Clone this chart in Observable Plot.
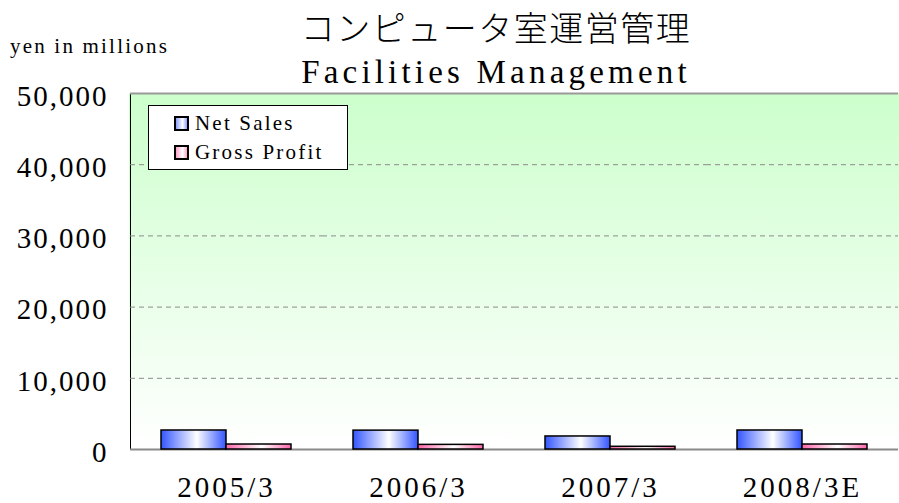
<!DOCTYPE html>
<html>
<head>
<meta charset="utf-8">
<script src="https://cdn.jsdelivr.net/npm/d3@7"></script>
<script src="https://cdn.jsdelivr.net/npm/@observablehq/plot@0.6"></script>
<style>
  html, body { margin: 0; padding: 0; background: #fff; }
  #wrap { position: relative; width: 899px; height: 503px; font-family: "Liberation Serif", "DejaVu Serif", serif; color: #000; }
  #chart { position: absolute; left: 0; top: 0; }
  #chart svg text { font-size: 29px; }
  .t { position: absolute; white-space: nowrap; }
  #unit { left: 10px; top: 34px; font-size: 21px; letter-spacing: 2.2px; }
  #title1 { left: 0; width: 992px; text-align: center; top: 2px; font-size: 34px; letter-spacing: 1.5px; font-family: "Noto Sans CJK JP", sans-serif; font-weight: 300; }
  #title2 { left: 0; width: 992px; text-align: center; top: 54px; font-size: 33px; letter-spacing: 4.2px; }
  #legend { position: absolute; left: 148px; top: 105px; width: 200px; height: 65px; background: #fff; border: 1px solid #000; box-sizing: border-box; }
  .li { position: absolute; left: 25px; font-size: 21px; letter-spacing: 2.2px; display: flex; align-items: center; }
  .sw { width: 11px; height: 11px; border: 2px solid #000; margin-right: 6px; box-sizing: content-box; }
</style>
</head>
<body>
<div id="wrap">
  <div id="chart"></div>
  <div class="t" id="unit">yen in millions</div>
  <div class="t" id="title1">コンピュータ室運営管理</div>
  <div class="t" id="title2">Facilities Management</div>
  <div id="legend"></div>
</div>
<script>
const categories = ["2005/3", "2006/3", "2007/3", "2008/3E"];
const seriesNames = ["Net Sales", "Gross Profit"];
const netSales = [2670, 2650, 1830, 2670];
const grossProfit = [700, 650, 380, 700];
const yTicks = [0, 10000, 20000, 30000, 40000, 50000];
const gridValues = [10000, 20000, 30000, 40000];

const rows = [];
categories.forEach((c, i) => {
  rows.push({category: c, series: seriesNames[0], value: netSales[i]});
  rows.push({category: c, series: seriesNames[1], value: grossProfit[i]});
});

const svg = Plot.plot({
  width: 899,
  height: 503,
  marginTop: 93,
  marginBottom: 54,
  marginLeft: 129,
  marginRight: 0,
  style: {fontFamily: "Liberation Serif, DejaVu Serif, serif", fontSize: "29px", background: "transparent", overflow: "visible"},
  facet: {data: rows, x: "category"},
  fx: {domain: categories, padding: 0, label: null, tickSize: 0, tickPadding: 27},
  x: {domain: seriesNames, paddingInner: 0, paddingOuter: 0.46, axis: null},
  y: {domain: [0, 50000], ticks: yTicks, tickFormat: d3.format(","), tickSize: 0, tickPadding: 22, label: null, line: true},
  marks: [
    Plot.ruleY(gridValues, {stroke: "#8a8a8a", strokeWidth: 1, strokeDasharray: "5,4"}),
    Plot.ruleY([50000], {stroke: "#999", strokeWidth: 2}),
    Plot.ruleY([0], {stroke: "#8a8a8a", strokeWidth: 2}),
    Plot.barY(rows, {filter: d => d.series === seriesNames[0], x: "series", y: "value", fill: "url(#gradNS)", stroke: "#000", strokeWidth: 1.5}),
    Plot.barY(rows, {filter: d => d.series === seriesNames[1], x: "series", y: "value", fill: "url(#gradGP)", stroke: "#000", strokeWidth: 1.5})
  ]
});

const root = d3.select(svg);
const defs = root.insert("defs", ":first-child");
function grad(id, stops, vertical) {
  const g = defs.append("linearGradient").attr("id", id)
    .attr("x1", 0).attr("y1", 0).attr("x2", vertical ? 0 : 1).attr("y2", vertical ? 1 : 0);
  stops.forEach(([o, c]) => g.append("stop").attr("offset", o).attr("stop-color", c));
}
grad("bgGrad", [[0, "#ccffcc"], [1, "#ffffff"]], true);
grad("gradNS", [[0, "#3355ff"], [0.55, "#ffffff"], [1, "#3355ff"]], false);
grad("gradGP", [[0, "#ff66aa"], [0.55, "#ffffff"], [1, "#ff66aa"]], false);

// plot-area background, placed from the library's own scales
const fxR = svg.scale("fx").range;
const yR = svg.scale("y").range;
root.insert("rect", "defs + *")
  .attr("x", Math.min(...fxR)).attr("width", Math.abs(fxR[1] - fxR[0]))
  .attr("y", Math.min(...yR)).attr("height", Math.abs(yR[1] - yR[0]))
  .attr("fill", "url(#bgGrad)");

// axis tick label styling
root.selectAll("g").filter(function() {
  const a = this.getAttribute("aria-label") || "";
  return a.startsWith("y-axis");
}).selectAll("text").style("letter-spacing", "2px").each(function() {
  const t = this.getAttribute("transform") || "";
  this.setAttribute("transform", (t + " translate(0,3)").trim());
});
root.selectAll("g").filter(function() {
  const a = this.getAttribute("aria-label") || "";
  return a.startsWith("fx-axis");
}).selectAll("text").style("letter-spacing", "3px");

document.getElementById("chart").appendChild(svg);

// legend
const legend = d3.select("#legend");
const swatchBg = {
  "Net Sales": "linear-gradient(to right, #8aa0ff, #ffffff 60%, #8aa0ff)",
  "Gross Profit": "linear-gradient(to right, #ffa0c8, #ffffff 60%, #ffa0c8)"
};
seriesNames.forEach((s, i) => {
  const item = legend.append("div").attr("class", "li").style("top", (5 + i * 29) + "px");
  item.append("div").attr("class", "sw").style("background", swatchBg[s]);
  item.append("span").text(s);
});
</script>
</body>
</html>
